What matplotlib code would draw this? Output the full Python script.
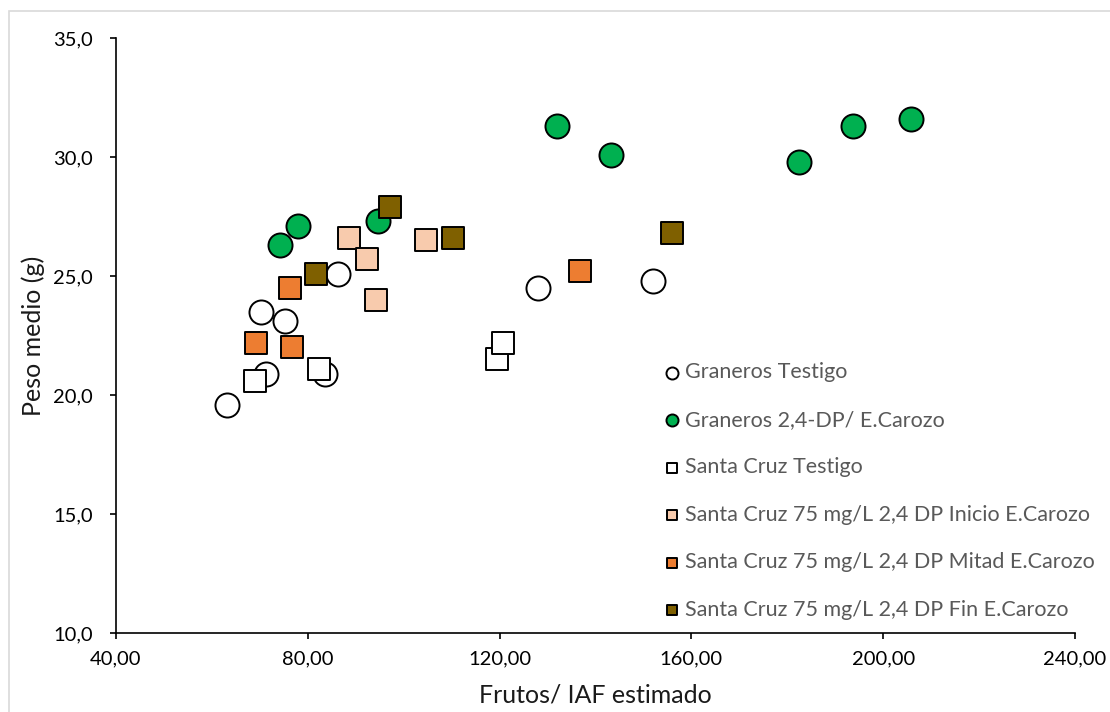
import matplotlib
matplotlib.use('Agg')
import matplotlib.pyplot as plt
from matplotlib.patches import Rectangle
from matplotlib.ticker import FuncFormatter, MultipleLocator

plt.rcParams['font.family'] = ['Lato', 'DejaVu Sans']

# Graneros
gra_test_x = [63.2, 71.3, 70.2, 75.3, 83.6, 86.3, 128.0, 152.0]
gra_test_y = [19.6, 20.9, 23.5, 23.1, 20.9, 25.1, 24.5, 24.8]
gra_dp_x = [74.2, 78.0, 94.6, 132.0, 143.2, 182.4, 193.7, 205.8]
gra_dp_y = [26.3, 27.1, 27.3, 31.3, 30.1, 29.8, 31.3, 31.6]

# Santa Cruz
sc_test_x = [69.0, 82.3, 119.5, 120.7]
sc_test_y = [20.6, 21.1, 21.5, 22.2]
sc_ini_x = [88.6, 92.4, 94.2, 104.7]
sc_ini_y = [26.6, 25.7, 24.0, 26.5]
sc_mit_x = [69.2, 76.3, 76.7, 136.8]
sc_mit_y = [22.2, 24.5, 22.0, 25.2]
sc_fin_x = [81.7, 97.1, 110.3, 156.0]
sc_fin_y = [25.1, 27.9, 26.6, 26.8]

series = [
    (gra_test_x, gra_test_y, 'o', 'white', 'Graneros Testigo'),
    (gra_dp_x, gra_dp_y, 'o', '#00B050', 'Graneros 2,4-DP/ E.Carozo'),
    (sc_test_x, sc_test_y, 's', 'white', 'Santa Cruz Testigo'),
    (sc_ini_x, sc_ini_y, 's', '#F8CBAD', 'Santa Cruz 75 mg/L 2,4 DP Inicio E.Carozo'),
    (sc_mit_x, sc_mit_y, 's', '#ED7D31', 'Santa Cruz 75 mg/L 2,4 DP Mitad E.Carozo'),
    (sc_fin_x, sc_fin_y, 's', '#7F6000', 'Santa Cruz 75 mg/L 2,4 DP Fin E.Carozo'),
]

fig = plt.figure(figsize=(11.1, 7.12), dpi=100)
ax = fig.add_axes([0.1045, 0.111, 0.864, 0.8356])

for i, (xs, ys, mk, col, lab) in enumerate(series):
    size = 300 if mk == 'o' else 250
    ax.scatter(xs, ys, s=size, marker=mk, facecolor=col, edgecolor='black',
               linewidth=1.4, label=lab, zorder=3 + i)

ax.set_xlim(40, 240)
ax.set_ylim(10, 35)
ax.xaxis.set_major_locator(MultipleLocator(40))
ax.yaxis.set_major_locator(MultipleLocator(5))
ax.xaxis.set_major_formatter(FuncFormatter(lambda v, p: f'{v:.2f}'.replace('.', ',')))
ax.yaxis.set_major_formatter(FuncFormatter(lambda v, p: f'{v:.1f}'.replace('.', ',')))

for s in ['top', 'right']:
    ax.spines[s].set_visible(False)
for s in ['left', 'bottom']:
    ax.spines[s].set_linewidth(1.2)
ax.tick_params(direction='out', length=4.5, width=1.2, labelsize=14.5, colors='black')
ax.tick_params(axis='y', pad=12)
ax.tick_params(axis='x', pad=8)

ax.set_xlabel('Frutos/ IAF estimado', fontsize=18, color='#1a1a1a', labelpad=12)
ax.set_ylabel('Peso medio (g)', fontsize=18, color='#1a1a1a', labelpad=6)

leg = ax.legend(loc='upper left', bbox_to_anchor=(0.571, 0.455), frameon=False,
                fontsize=15.5, markerscale=0.5, handlelength=0.8, handletextpad=0.2,
                labelspacing=1.28, borderaxespad=0, borderpad=0)
for t in leg.get_texts():
    t.set_color('#595959')

# chart area border
fig.add_artist(Rectangle((9 / 1110, -0.1), 2, 1 - 11 / 712 + 0.1, transform=fig.transFigure,
                         fill=False, edgecolor='#d9d9d9', linewidth=1.2))

fig.savefig('out.png', dpi=100)
